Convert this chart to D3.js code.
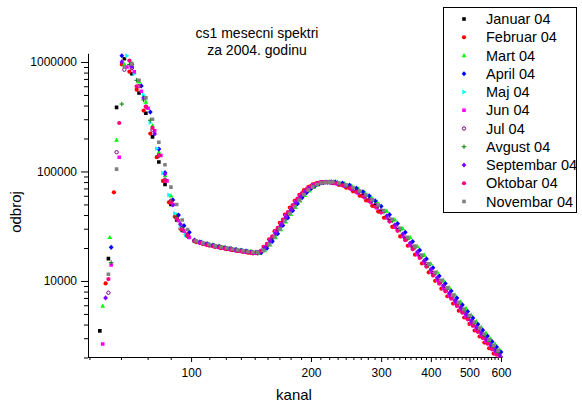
<!DOCTYPE html>
<html>
<head>
<meta charset="utf-8">
<script src="https://cdn.jsdelivr.net/npm/d3@7/dist/d3.min.js"></script>
<style>
  body { margin: 0; background: #fff; }
  svg text { font-family: "Liberation Sans", Arial, sans-serif; fill: #000; }
</style>
</head>
<body>
<svg id="chart" width="582" height="406"></svg>
<script>
// ===== data =====
const serije = ["Januar 04", "Februar 04", "Mart 04", "April 04", "Maj 04", "Jun 04",
    "Jul 04", "Avgust 04", "Septembar 04", "Oktobar 04", "Novembar 04"];

// channel grids above ~100 (three sampling grids, used in turn by the months)
const kanal = [102, 106, 110, 114, 118, 122, 126, 130, 134, 138, 142, 146,
    150, 155, 160, 165, 170, 175, 180, 185, 190, 195, 200, 205, 210, 215, 220,
    225, 230, 240, 250, 260, 270, 280, 290, 300, 315, 330, 345, 360, 375, 390,
    405, 420, 435, 450, 465, 480, 495, 510, 525, 540, 555, 570, 585, 600];
const kanalB = [103, 107, 111, 115, 119, 123, 127, 131, 135, 139, 143, 147,
    152, 157, 162, 167, 172, 177, 182, 187, 192, 197, 202, 207, 212, 217, 222,
    227, 235, 245, 255, 265, 275, 285, 295, 305, 320, 335, 350, 365, 380, 395,
    410, 425, 440, 455, 470, 485, 500, 515, 530, 545, 560, 575, 590];
const kanalC = [105, 109, 113, 117, 121, 125, 129, 133, 137, 141, 145,
    148, 153, 158, 163, 168, 173, 178, 183, 188, 193, 198, 203, 208, 213, 218,
    223, 228, 233, 243, 253, 263, 273, 283, 293, 310, 325, 340, 355, 370, 385,
    400, 415, 430, 445, 460, 475, 490, 505, 520, 535, 550, 565, 580, 595];

// low channels (edge + peak) and their counts, per month
const januarK = [59, 62, 65, 68, 71, 74, 77, 80, 83, 86, 89, 92, 95, 98];
const januarN = [3500, 16000, 385000, 1070000, 780000, 520000, 340000, 207000, 122000, 76000, 50000, 36000, 29000, 25800];
const februarK = [61, 64, 67, 70, 73, 76, 79, 82, 85, 88, 91, 94, 97];
const februarN = [9500, 64500, 950000, 815000, 558000, 360000, 222000, 135000, 82000, 52300, 38700, 30000, 26700];
const martK = [60, 62.5, 65, 68, 71, 74, 77, 80, 83, 86, 89, 92, 95, 98];
const martN = [5900, 25000, 194000, 950000, 980000, 660000, 430000, 262000, 150000, 92000, 60000, 40000, 30500, 25800];
const aprilK = [63, 67, 71, 75, 79, 83, 86, 90, 93, 96, 99];
const aprilN = [20300, 1140000, 950000, 604000, 349000, 160000, 97500, 55000, 40000, 32000, 27800];
const majK = [69, 72, 76, 79, 82, 85, 88, 91, 94, 97];
const majN = [1140000, 780000, 500000, 280000, 162000, 97000, 61000, 41500, 31000, 26300];
const junK = [60, 63, 66, 69, 72, 75, 78, 81, 84, 87, 90, 93, 96, 99];
const junN = [2660, 14000, 135000, 900000, 815000, 540000, 378000, 235000, 140000, 82000, 50000, 35500, 28500, 25000];
const julK = [62, 65, 68, 71, 74, 77, 80, 83, 86, 89, 92, 95, 98];
const julN = [7800, 150000, 850000, 880000, 600000, 390000, 240000, 140000, 84000, 54000, 38000, 30500, 26300];
const avgustK = [63, 67, 70, 73, 76, 79, 83, 86, 89, 92, 95, 98];
const avgustN = [14700, 413000, 950000, 680000, 450000, 294000, 140000, 82000, 53000, 37500, 29500, 25500];
const septembarK = [61, 67, 71, 76, 81, 86, 90, 94, 98];
const septembarN = [7000, 1000000, 906000, 470000, 220000, 95000, 49400, 33000, 26000];
const oktobarK = [62, 66, 70, 73, 77, 80, 83, 86, 89, 92, 95, 98];
const oktobarN = [10400, 277000, 1030000, 600000, 391000, 250000, 140000, 82000, 52000, 37000, 29500, 26000];
const novembarK = [62, 65, 68, 71, 74, 77, 80, 83, 86, 89, 92, 95, 98];
const novembarN = [11500, 105000, 900000, 960000, 680000, 470000, 300000, 185000, 115000, 72000, 50000, 36000, 29500];

// counts above ~100 (januar, april, jul, oktobar on kanal; februar, maj, avgust, novembar on kanalB;
// mart, jun, septembar on kanalC)
const januar = [23200, 22200, 21400, 20800, 20300, 19800, 19400, 19000, 18700, 18400, 18100, 18000,
    18800, 21400, 25100, 29800, 35500, 41600, 48200, 55400, 62300, 68100, 72900, 76500, 78700, 79800, 80200,
    79400, 78200, 75100, 70800, 65700, 60000, 54500, 48500, 43100, 35700, 29400, 24200, 20000, 16600, 13800,
    11500, 9710, 8260, 7060, 6080, 5270, 4580, 4000, 3510, 3090, 2740, 2430, 2170, 1950];
const februar = [22650, 21770, 21030, 20440, 19950, 19500, 19110, 18730, 18440, 18140, 17900, 17880,
    20500, 24000, 28500, 34000, 40300, 46800, 53900, 61100, 67500, 72500, 76200, 78700, 79900, 80100, 79900,
    78200, 75200, 71000, 65900, 60100, 54400, 48600, 43000, 37800, 31200, 25500, 20960, 17400, 14470, 11990,
    10030, 8500, 7250, 6210, 5350, 4640, 4050, 3530, 3110, 2740, 2430, 2170, 1940];
const mart = [22890, 22030, 21370, 20830, 20320, 19890, 19490, 19150, 18850, 18540, 18370,
    17930, 18980, 21380, 24900, 29450, 34790, 40690, 47100, 53970, 60660, 66600, 71580, 75440, 78050, 79520,
    80250, 80550, 79980, 77770, 74190, 69540, 64460, 58840, 52920, 43600, 36270, 30070, 24970, 20720, 17240,
    14360, 12050, 10210, 8730, 7490, 6470, 5630, 4900, 4290, 3780, 3340, 2960, 2650, 2360];
const april = [23600, 22600, 21800, 21200, 20600, 20100, 19700, 19300, 19000, 18700, 18400, 18300,
    18100, 19900, 23000, 27000, 32100, 37700, 43900, 50700, 57700, 64100, 69600, 74100, 77200, 79100, 79700,
    80400, 80200, 78300, 74900, 70400, 65300, 59800, 53800, 48100, 40300, 33400, 27800, 22900, 19100, 15900,
    13200, 11100, 9480, 8100, 6980, 6040, 5260, 4580, 4020, 3550, 3140, 2790, 2490, 2240];
const maj = [23140, 22230, 21480, 20870, 20370, 19920, 19520, 19130, 18830, 18530, 18280, 18260,
    19130, 21680, 25390, 30070, 35680, 41620, 48210, 55270, 62040, 67860, 72640, 76210, 78510, 79640, 79900,
    79880, 78170, 75110, 70890, 65740, 60340, 54540, 48850, 43390, 36120, 29830, 24660, 20480, 17030, 14110,
    11810, 10000, 8530, 7300, 6300, 5470, 4770, 4160, 3660, 3230, 2860, 2550, 2280];
const jun = [22390, 21550, 20900, 20380, 19880, 19460, 19070, 18740, 18440, 18140, 17970,
    18450, 20480, 23820, 28130, 33460, 39460, 45940, 52920, 59960, 66270, 71430, 75360, 78060, 79480, 79920,
    79610, 78640, 77090, 73510, 68840, 63470, 57830, 52180, 46350, 37620, 31000, 25530, 21050, 17460, 14530,
    12100, 10150, 8610, 7350, 6310, 5460, 4750, 4130, 3620, 3190, 2820, 2500, 2230, 1990];
const jul = [23300, 22300, 21400, 20900, 20400, 19900, 19500, 19100, 18800, 18500, 18200, 18100,
    18700, 21200, 24700, 29300, 34900, 40900, 47500, 54500, 61500, 67500, 72400, 76100, 78500, 79700, 79900,
    79600, 78600, 75600, 71600, 66500, 60900, 55400, 49500, 44000, 36500, 30100, 24800, 20500, 17000, 14200,
    11800, 9950, 8470, 7240, 6240, 5400, 4700, 4100, 3600, 3170, 2810, 2490, 2230, 2000];
const avgust = [23070, 22170, 21410, 20810, 20310, 19860, 19460, 19080, 18780, 18480, 18220, 18200,
    19320, 22000, 25790, 30590, 36290, 42310, 48950, 56030, 62770, 68480, 73120, 76590, 78740, 79720, 79900,
    79640, 77830, 74590, 70200, 64970, 59520, 53750, 48030, 42590, 35410, 29210, 24120, 20030, 16660, 13800,
    11550, 9780, 8340, 7140, 6160, 5350, 4660, 4070, 3580, 3160, 2800, 2490, 2230];
const septembar = [22550, 21700, 21050, 20520, 20020, 19600, 19200, 18870, 18570, 18270, 18100,
    18300, 20000, 23040, 27100, 32190, 37980, 44280, 51080, 58100, 64530, 69960, 74250, 77290, 79080, 79840,
    79850, 79200, 77950, 74780, 70460, 65300, 59800, 54130, 48280, 39350, 32530, 26850, 22180, 18400, 15310,
    12750, 10700, 9070, 7750, 6650, 5750, 5000, 4350, 3810, 3360, 2970, 2630, 2350, 2100];
const oktobar = [23100, 22100, 21300, 20700, 20200, 19700, 19300, 18900, 18600, 18300, 18000, 18000,
    18900, 21800, 25600, 30500, 36300, 42500, 49300, 56400, 63400, 69100, 73700, 77000, 79100, 79900, 80000,
    79200, 77900, 74500, 70100, 64900, 59100, 53500, 47600, 42100, 34900, 28700, 23600, 19500, 16200, 13500,
    11200, 9450, 8050, 6880, 5920, 5130, 4460, 3890, 3420, 3010, 2670, 2370, 2120, 1900];
const novembar = [23180, 22280, 21520, 20920, 20410, 19960, 19560, 19170, 18870, 18570, 18320, 18300,
    19020, 21500, 25130, 29750, 35310, 41220, 47740, 54760, 61560, 67480, 72350, 76020, 78390, 79640, 79900,
    80040, 78520, 75590, 71410, 66350, 60990, 55200, 49470, 43970, 36630, 30290, 25040, 20800, 17290, 14320,
    11990, 10150, 8660, 7420, 6400, 5550, 4840, 4220, 3710, 3280, 2910, 2590, 2310];

const yMajor = [10000, 100000, 1000000];
const xMajor = [100, 200, 300, 400, 500, 600];

// ===== styles =====
const boje = ["#000000", "#ff0000", "#00ff00", "#0000ff", "#00ffff", "#ff00ff",
    "#800080", "#008000", "#8000ff", "#ff0080", "#808080"];
const simboli = ["square", "circle", "triUp", "diamond", "triRight", "square",
    "ring", "plus", "diamond", "circle", "square"];
const oblik = {
    square: "M-1.8,-1.8h3.6v3.6h-3.6z",
    circle: "M2.1,0A2.1,2.1 0 1,1 -2.1,0A2.1,2.1 0 1,1 2.1,0z",
    triUp: "M0,-2.5L2.4,1.7L-2.4,1.7z",
    diamond: "M0,-2.6L2.4,0L0,2.6L-2.4,0z",
    triRight: "M2.5,0L-1.7,2.4L-1.7,-2.4z",
    ring: "M1.7,0A1.7,1.7 0 1,1 -1.7,0A1.7,1.7 0 1,1 1.7,0z",
    plus: "M-2.3,0H2.3M0,-2.3V2.3"
};
const hollow = s => s === "ring" || s === "plus";

const niski = [[januarK, januarN], [februarK, februarN], [martK, martN], [aprilK, aprilN],
    [majK, majN], [junK, junN], [julK, julN], [avgustK, avgustN], [septembarK, septembarN],
    [oktobarK, oktobarN], [novembarK, novembarN]];
const visoki = [januar, februar, mart, april, maj, jun, jul, avgust, septembar, oktobar, novembar];
const mreze = [kanal, kanalB, kanalC, kanal, kanalB, kanalC, kanal, kanalB, kanalC, kanal, kanalB];

const data = serije.map((ime, i) => {
    let pts = niski[i][0].map((k, j) => [k, niski[i][1][j]]);
    if (mreze[i].length !== visoki[i].length) console.warn("length mismatch", ime);
    pts = pts.concat(mreze[i].map((k, j) => [k, visoki[i][j]]));
    return { ime: ime, boja: boje[i], simbol: simboli[i], tacke: pts };
});

// ===== chart =====
const svg = d3.select("#chart");
const x = d3.scaleLog().domain([55.1, 600]).range([88, 501]);
const y = d3.scaleLog().domain([2000, 1200000]).range([357.5, 53.3]);

svg.append("defs").append("clipPath").attr("id", "plot")
    .append("rect").attr("x", 86).attr("y", 48).attr("width", 418).attr("height", 309.5);

// minor ticks
let xMinor = [];
for (let m = 0; m < 6; m++) {
    for (let k = 1; k <= 8; k++) {
        let v = m * 100 + k * 100 / 9;
        if (v >= 55.1 && v <= 600) xMinor.push(v);
    }
}
let yMinor = [];
[1000, 10000, 100000].forEach(d => {
    for (let k = 2; k <= 9; k++) {
        let v = d * k;
        if (v >= 2000 && v <= 1200000) yMinor.push(v);
    }
});

const axisY = svg.append("g").attr("transform", "translate(88,0)");
axisY.call(d3.axisLeft(y).tickValues(yMinor).tickSize(4).tickSizeOuter(0).tickFormat(""));
axisY.append("g").call(d3.axisLeft(y).tickValues(yMajor).tickSize(7).tickSizeOuter(0)
    .tickPadding(4).tickFormat(d3.format("d")))
    .call(g => g.select(".domain").remove());

const axisX = svg.append("g").attr("transform", "translate(0,357)");
axisX.call(d3.axisBottom(x).tickValues(xMinor).tickSize(3).tickSizeOuter(0).tickFormat(""));
axisX.append("g").call(d3.axisBottom(x).tickValues(xMajor).tickSize(5).tickSizeOuter(0)
    .tickPadding(6).tickFormat(d3.format("d")))
    .call(g => g.select(".domain").remove());

svg.selectAll(".tick text").attr("font-size", "12px")
    .attr("font-family", "Liberation Sans, Arial, sans-serif").attr("fill", "#000");
svg.selectAll(".domain, .tick line").attr("stroke", "#000");

// points
const plot = svg.append("g").attr("clip-path", "url(#plot)");
data.forEach(s => {
    plot.append("g").selectAll("path")
        .data(s.tacke.filter(d => d[1] != null))
        .join("path")
        .attr("transform", d => `translate(${x(d[0])},${y(d[1])})`)
        .attr("d", oblik[s.simbol])
        .attr("fill", hollow(s.simbol) ? "none" : s.boja)
        .attr("stroke", hollow(s.simbol) ? s.boja : "none")
        .attr("stroke-width", 1);
});

// titles
svg.append("text").attr("x", 257).attr("y", 38).attr("text-anchor", "middle")
    .attr("font-size", "14px").text("cs1 mesecni spektri");
svg.append("text").attr("x", 257).attr("y", 55).attr("text-anchor", "middle")
    .attr("font-size", "14px").text("za 2004. godinu");
svg.append("text").attr("x", 294).attr("y", 400).attr("text-anchor", "middle")
    .attr("font-size", "15px").text("kanal");
svg.append("text").attr("transform", "translate(21,212) rotate(-90)")
    .attr("text-anchor", "middle").attr("font-size", "15px").text("odbroj");

// legend
const legend = svg.append("g");
legend.append("rect").attr("x", 443.5).attr("y", 7.5).attr("width", 133).attr("height", 205)
    .attr("fill", "#fff").attr("stroke", "#000").attr("stroke-width", 1);
const rows = legend.selectAll("g.row").data(data).join("g").attr("class", "row")
    .attr("transform", (d, i) => `translate(0,${19 + i * 18.25})`);
rows.append("path").attr("transform", "translate(464,0)")
    .attr("d", d => oblik[d.simbol])
    .attr("fill", d => hollow(d.simbol) ? "none" : d.boja)
    .attr("stroke", d => hollow(d.simbol) ? d.boja : "none");
rows.append("text").attr("x", 486).attr("y", 5.2).attr("font-size", "14.5px").text(d => d.ime);
</script>
</body>
</html>
